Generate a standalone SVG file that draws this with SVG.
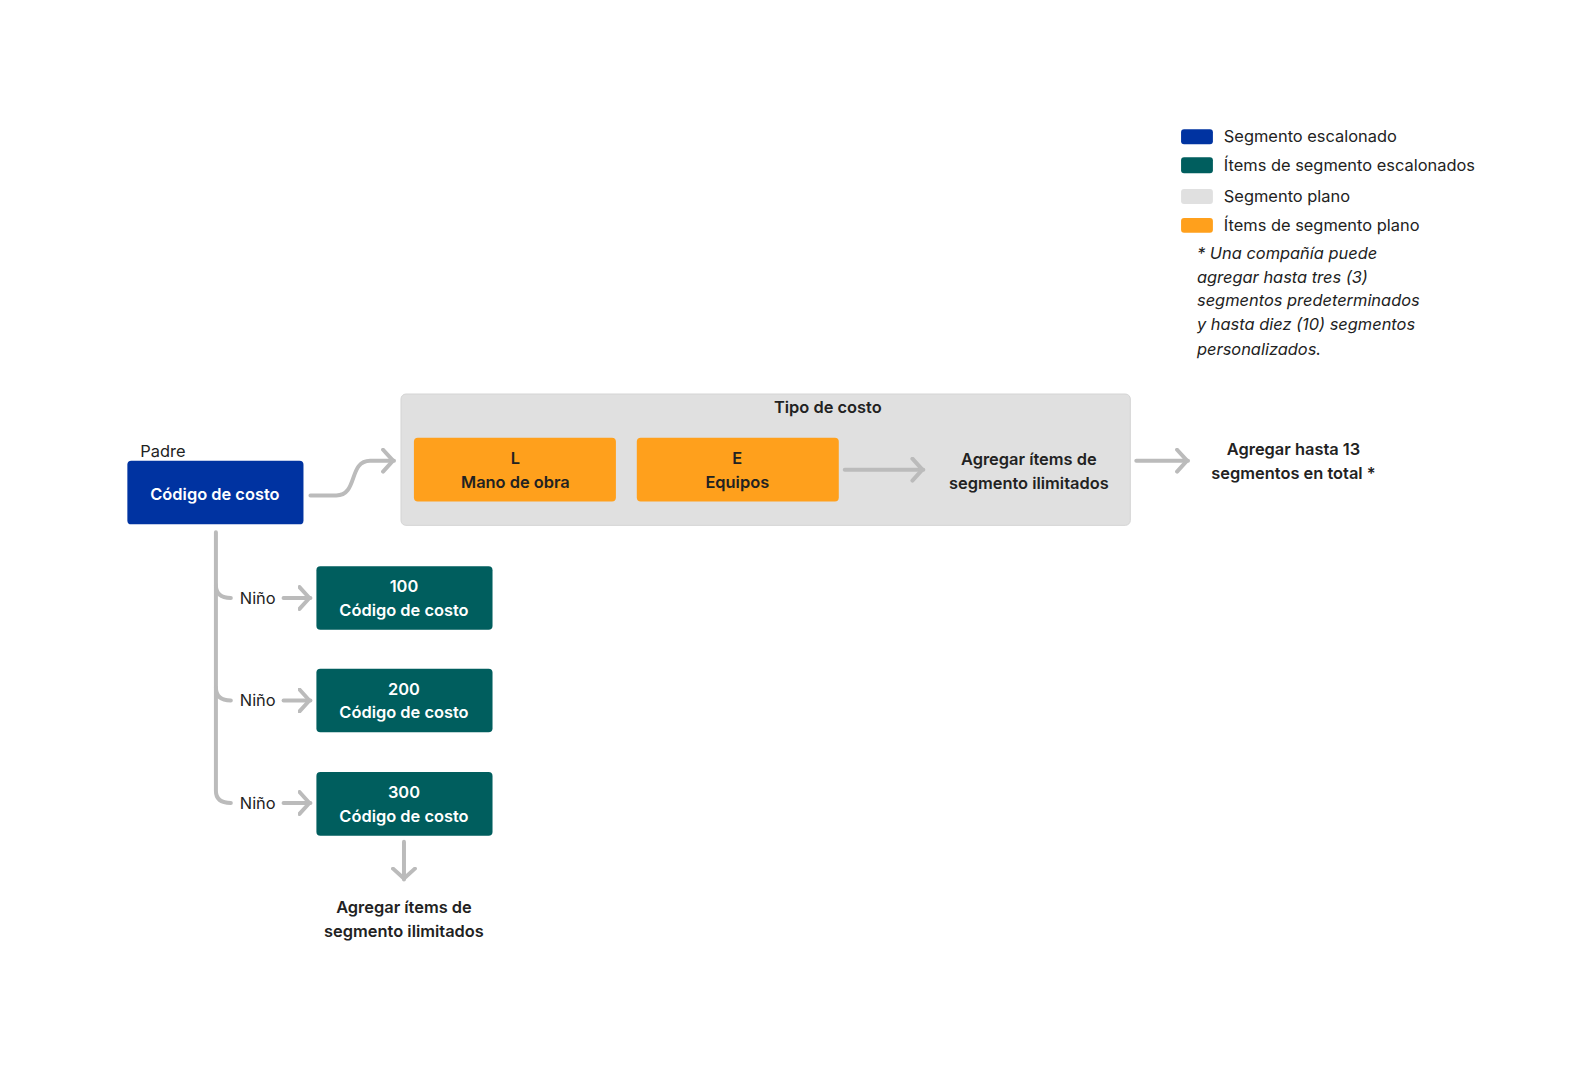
<svg xmlns="http://www.w3.org/2000/svg" width="1594" height="1079" viewBox="0 0 1594 1079">
<style>
text{font-family:Inter,"Liberation Sans",sans-serif;font-size:16.5px;fill:#222}
.b{font-weight:600}
.w{fill:#fff;font-weight:600}
.m{text-anchor:middle}
.i{font-style:italic}
.c{fill:none;stroke:#bbb;stroke-width:4;stroke-linecap:round;stroke-linejoin:round}
</style>
<defs>
<marker id="a" viewBox="0 0 14 26" refX="13" refY="13" markerWidth="14" markerHeight="26" markerUnits="userSpaceOnUse" orient="auto"><path d="M2 2 L12 13 L2 24" fill="none" stroke="#bbb" stroke-width="4" stroke-linecap="round" stroke-linejoin="round"/></marker>
</defs>
<rect width="1594" height="1079" fill="#fff"/>
<g transform="scale(0.995)">
<g id="legend">
<rect x="1187" y="130" width="32" height="15" rx="3" fill="#0033a1"/><text x="1230" y="143">Segmento escalonado</text>
<rect x="1187" y="158" width="32" height="16" rx="3" fill="#005e5e"/><text x="1230" y="172">Ítems de segmento escalonados</text>
<rect x="1187" y="190" width="32" height="15" rx="3" fill="#e0e0e0"/><text x="1230" y="203">Segmento plano</text>
<rect x="1187" y="219" width="32" height="15" rx="3" fill="#ffa01c"/><text x="1230" y="232">Ítems de segmento plano</text>
<text class="i" x="1203" y="260">* Una compañía puede</text>
<text class="i" x="1203" y="284">agregar hasta tres (3)</text>
<text class="i" x="1203" y="308">segmentos predeterminados</text>
<text class="i" x="1203" y="332">y hasta diez (10) segmentos</text>
<text class="i" x="1203" y="357">personalizados.</text>
</g>
<g id="tipo">
<rect x="403" y="396" width="733" height="132" rx="5" fill="#e0e0e0" stroke="#d4d4d4"/>
<text class="b m" x="832" y="415">Tipo de costo</text>
</g>
<g id="L"><rect x="416" y="440" width="203" height="64" rx="4" fill="#ffa01c"/><text class="b m" x="518" y="466">L</text><text class="b m" x="518" y="490">Mano de obra</text></g>
<g id="E"><rect x="640" y="440" width="203" height="64" rx="4" fill="#ffa01c"/><text class="b m" x="741" y="466">E</text><text class="b m" x="741" y="490">Equipos</text></g>
<g id="agregar1"><text class="b m" x="1034" y="467">Agregar ítems de</text><text class="b m" x="1034" y="491">segmento ilimitados</text></g>
<g id="total"><text class="b m" x="1300" y="457">Agregar hasta 13</text><text class="b m" x="1300" y="481">segmentos en total *</text></g>
<g id="padre"><text x="141" y="459">Padre</text><rect x="128" y="463" width="177" height="64" rx="4" fill="#0033a1"/><text class="w m" x="216" y="503">Código de costo</text></g>
<g id="c100"><rect x="318" y="569" width="177" height="64" rx="4" fill="#005e5e"/><text class="w m" x="406" y="595">100</text><text class="w m" x="406" y="619">Código de costo</text></g>
<g id="c200"><rect x="318" y="672" width="177" height="64" rx="4" fill="#005e5e"/><text class="w m" x="406" y="698">200</text><text class="w m" x="406" y="722">Código de costo</text></g>
<g id="c300"><rect x="318" y="776" width="177" height="64" rx="4" fill="#005e5e"/><text class="w m" x="406" y="802">300</text><text class="w m" x="406" y="826">Código de costo</text></g>
<g id="agregar2"><text class="b m" x="406" y="918">Agregar ítems de</text><text class="b m" x="406" y="942">segmento ilimitados</text></g>
<g id="ninos"><text x="241" y="607">Niño</text><text x="241" y="710">Niño</text><text x="241" y="813">Niño</text></g>
<g id="connectors">
<path class="c" d="M312 498 H338 C360 498 350 463 372 463 H396" marker-end="url(#a)"/>
<path class="c" d="M849 472 H928" marker-end="url(#a)"/>
<path class="c" d="M1142 463 H1194" marker-end="url(#a)"/>
<path class="c" d="M217 535 V795 Q217 807 232 807"/>
<path class="c" d="M217 588 Q217 601 232 601"/>
<path class="c" d="M217 691 Q217 704 232 704"/>
<path class="c" d="M285 601 H312" marker-end="url(#a)"/>
<path class="c" d="M285 704 H312" marker-end="url(#a)"/>
<path class="c" d="M285 807 H312" marker-end="url(#a)"/>
<path class="c" d="M406 846 V884" marker-end="url(#a)"/>
</g>
</g>
</svg>
